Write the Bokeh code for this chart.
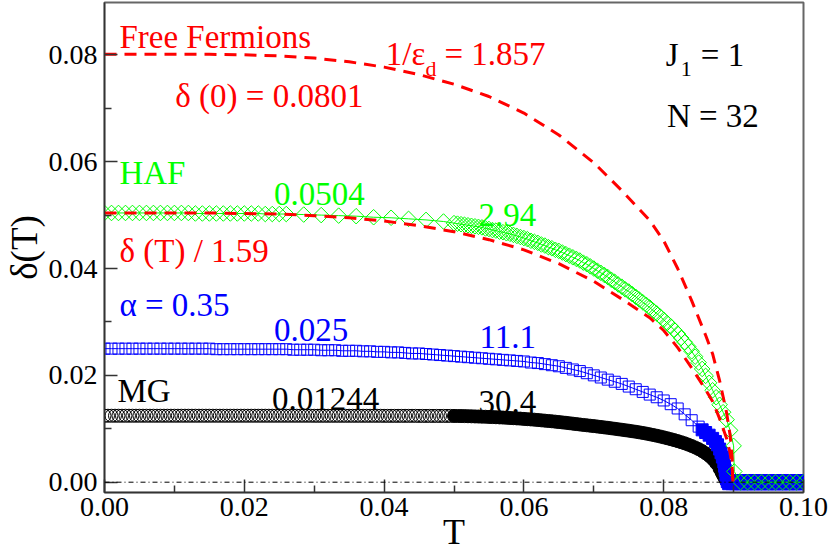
import math
from bokeh.plotting import figure
from bokeh.models import Range1d, FixedTicker, PrintfTickFormatter, Label, Span
from bokeh.embed import file_html
from bokeh.resources import INLINE

# ---------------- data ----------------
# Free fermions, delta(T)
ff_T = [0.000, 0.005, 0.010, 0.015, 0.020, 0.025, 0.030, 0.035, 0.040, 0.045,
        0.050, 0.055, 0.060, 0.065, 0.070, 0.074, 0.078, 0.080, 0.082, 0.084,
        0.086, 0.087, 0.088, 0.089, 0.0895, 0.0898, 0.0899]
ff_d = [0.0801, 0.0801, 0.0801, 0.0801, 0.0800, 0.0798, 0.0794, 0.0787, 0.0777, 0.0763,
        0.0745, 0.0722, 0.0691, 0.0650, 0.0598, 0.0546, 0.0490, 0.0452, 0.0400, 0.0340,
        0.0275, 0.0240, 0.0190, 0.0130, 0.0088, 0.0045, 0.0000]
# delta(T) / 1.59
ffs_d = [0.0504, 0.0504, 0.0504, 0.0504, 0.0503, 0.0502, 0.0499, 0.0495, 0.0489, 0.0480,
         0.0469, 0.0454, 0.0435, 0.0409, 0.0376, 0.0343, 0.0308, 0.0284, 0.0252, 0.0214,
         0.0173, 0.0151, 0.0119, 0.0082, 0.0055, 0.0028, 0.0000]

# HAF (green diamonds)
haf_T1 = [0.000, 0.001, 0.002, 0.003, 0.004, 0.005, 0.006, 0.007, 0.008, 0.009,
          0.010, 0.011, 0.012, 0.013, 0.014, 0.015, 0.016, 0.017, 0.018, 0.019,
          0.020, 0.021, 0.022, 0.023, 0.024, 0.025, 0.026,
          0.0285, 0.0310, 0.0335, 0.0360, 0.0385, 0.0410, 0.0435, 0.0460, 0.0485]
haf_d1 = [0.0504, 0.0504, 0.0504, 0.0504, 0.0504, 0.0504, 0.0504, 0.0504, 0.0504, 0.0504,
          0.0504, 0.0504, 0.0504, 0.0503, 0.0503, 0.0503, 0.0503, 0.0503, 0.0503, 0.0503,
          0.0503, 0.0503, 0.0503, 0.0502, 0.0502, 0.0502, 0.0502,
          0.0501, 0.0500, 0.0499, 0.0498, 0.0496, 0.0495, 0.0493, 0.0491, 0.0488]
haf_T2 = [0.0500, 0.0505, 0.0510, 0.0515, 0.0520, 0.0525, 0.0530, 0.0535, 0.0540, 0.0545,
          0.0550, 0.0555, 0.0560, 0.0565, 0.0570, 0.0575, 0.0580, 0.0585, 0.0590, 0.0595,
          0.0600, 0.0605, 0.0610, 0.0615, 0.0620, 0.0625, 0.0630, 0.0635, 0.0640, 0.0645,
          0.0650, 0.0655, 0.0660, 0.0665, 0.0670, 0.0675, 0.0680, 0.0685, 0.0690, 0.0695,
          0.0700, 0.0705, 0.0710, 0.0715, 0.0720, 0.0725, 0.0730, 0.0735, 0.0740, 0.0745,
          0.0750, 0.0755, 0.0760, 0.0765, 0.0770, 0.0775, 0.0780, 0.0785, 0.0790, 0.0795,
          0.0800, 0.0805, 0.0810, 0.0815, 0.0820, 0.0825, 0.0830, 0.0835, 0.0840, 0.0845,
          0.0850, 0.0855, 0.0860, 0.0865, 0.0870, 0.0875, 0.0880, 0.0885, 0.0890, 0.0895,
          0.0900, 0.0901]
haf_d2 = [0.0485, 0.0484, 0.0483, 0.0482, 0.0481, 0.0480, 0.0479, 0.0478, 0.0477, 0.0475,
          0.0474, 0.0472, 0.0471, 0.0469, 0.0468, 0.0466, 0.0465, 0.0463, 0.0461, 0.0459,
          0.0457, 0.0455, 0.0452, 0.0450, 0.0448, 0.0445, 0.0443, 0.0440, 0.0438, 0.0435,
          0.0433, 0.0430, 0.0427, 0.0424, 0.0421, 0.0418, 0.0415, 0.0411, 0.0408, 0.0404,
          0.0400, 0.0396, 0.0392, 0.0388, 0.0384, 0.0379, 0.0375, 0.0370, 0.0366, 0.0361,
          0.0357, 0.0352, 0.0347, 0.0342, 0.0337, 0.0332, 0.0327, 0.0321, 0.0316, 0.0310,
          0.0304, 0.0298, 0.0292, 0.0285, 0.0278, 0.0270, 0.0262, 0.0254, 0.0245, 0.0235,
          0.0224, 0.0212, 0.0199, 0.0186, 0.0172, 0.0159, 0.0145, 0.0131, 0.0117, 0.0097,
          0.0068, 0.0020]
haf_T3 = [0.091, 0.092, 0.093, 0.094, 0.095, 0.096, 0.097, 0.098, 0.099, 0.100]
haf_d3 = [0.0, 0.0, 0.0, 0.0, 0.0, 0.0, 0.0, 0.0, 0.0, 0.0]

# alpha = 0.35 (blue squares)
a_T1 = [0.000, 0.001, 0.002, 0.003, 0.004, 0.005, 0.006, 0.007, 0.008, 0.009,
        0.010, 0.011, 0.012, 0.013, 0.014, 0.015, 0.016, 0.017, 0.018, 0.019,
        0.020, 0.021, 0.022, 0.023, 0.024, 0.025, 0.026, 0.027, 0.028, 0.029,
        0.030, 0.031, 0.032, 0.033, 0.034, 0.035, 0.036, 0.037, 0.038, 0.039,
        0.040, 0.041, 0.042, 0.043, 0.044, 0.045, 0.046, 0.047, 0.048, 0.049,
        0.050, 0.051, 0.052, 0.053, 0.054, 0.055, 0.056, 0.057, 0.058, 0.059,
        0.060, 0.061, 0.062, 0.063, 0.064, 0.065, 0.066, 0.067, 0.068, 0.069,
        0.070, 0.071, 0.072, 0.073, 0.074, 0.075, 0.076, 0.077, 0.078, 0.079,
        0.080, 0.081, 0.082, 0.083, 0.084, 0.085]
a_d1 = [0.0250, 0.0250, 0.0250, 0.0250, 0.0250, 0.0250, 0.0250, 0.0250, 0.0250, 0.0250,
        0.0250, 0.0250, 0.0250, 0.0250, 0.0250, 0.0250, 0.0249, 0.0249, 0.0249, 0.0249,
        0.0249, 0.0249, 0.0249, 0.0249, 0.0249, 0.0249, 0.0249, 0.0248, 0.0248, 0.0248,
        0.0248, 0.0247, 0.0247, 0.0247, 0.0246, 0.0246, 0.0246, 0.0245, 0.0245, 0.0244,
        0.0244, 0.0243, 0.0243, 0.0242, 0.0241, 0.0241, 0.0240, 0.0239, 0.0238, 0.0237,
        0.0236, 0.0235, 0.0234, 0.0233, 0.0232, 0.0231, 0.0230, 0.0229, 0.0228, 0.0227,
        0.0226, 0.0224, 0.0223, 0.0221, 0.0219, 0.0217, 0.0214, 0.0211, 0.0208, 0.0204,
        0.0200, 0.0196, 0.0192, 0.0188, 0.0184, 0.0179, 0.0174, 0.0169, 0.0164, 0.0159,
        0.0153, 0.0146, 0.0138, 0.0127, 0.0116, 0.0104]
a_T2 = [0.0855, 0.0860, 0.0865, 0.0870, 0.0874, 0.0877, 0.0880, 0.0882, 0.0884, 0.0886,
        0.0887, 0.0888, 0.0889, 0.0890, 0.0891]
a_d2 = [0.0098, 0.0093, 0.0088, 0.0082, 0.0076, 0.0070, 0.0062, 0.0055, 0.0047, 0.0038,
        0.0030, 0.0022, 0.0014, 0.0006, 0.0001]
a_T3 = [0.0895, 0.0900, 0.0905, 0.0910, 0.0915, 0.0920, 0.0925, 0.0930, 0.0935, 0.0940,
        0.0945, 0.0950, 0.0955, 0.0960, 0.0965, 0.0970, 0.0975, 0.0980, 0.0985, 0.0990,
        0.0995, 0.1000]
a_d3 = [0.0, 0.0, 0.0, 0.0, 0.0, 0.0, 0.0, 0.0, 0.0, 0.0,
        0.0, 0.0, 0.0, 0.0, 0.0, 0.0, 0.0, 0.0, 0.0, 0.0,
        0.0, 0.0]

# MG (black circles)
mg_T1 = [0.0000, 0.0005, 0.0010, 0.0015, 0.0020, 0.0025, 0.0030, 0.0035, 0.0040, 0.0045,
         0.0050, 0.0055, 0.0060, 0.0065, 0.0070, 0.0075, 0.0080, 0.0085, 0.0090, 0.0095,
         0.0100, 0.0105, 0.0110, 0.0115, 0.0120, 0.0125, 0.0130, 0.0135, 0.0140, 0.0145,
         0.0150, 0.0155, 0.0160, 0.0165, 0.0170, 0.0175, 0.0180, 0.0185, 0.0190, 0.0195,
         0.0200, 0.0205, 0.0210, 0.0215, 0.0220, 0.0225, 0.0230, 0.0235, 0.0240, 0.0245,
         0.0250, 0.0255, 0.0260, 0.0265, 0.0270, 0.0275, 0.0280, 0.0285, 0.0290, 0.0295,
         0.0300, 0.0305, 0.0310, 0.0315, 0.0320, 0.0325, 0.0330, 0.0335, 0.0340, 0.0345,
         0.0350, 0.0355, 0.0360, 0.0365, 0.0370, 0.0375, 0.0380, 0.0385, 0.0390, 0.0395,
         0.0400, 0.0405, 0.0410, 0.0415, 0.0420, 0.0425, 0.0430, 0.0435, 0.0440, 0.0445,
         0.0450, 0.0455, 0.0460, 0.0465, 0.0470, 0.0475, 0.0480, 0.0485, 0.0490, 0.0495]
mg_d1 = [0.01244, 0.01244, 0.01244, 0.01244, 0.01244, 0.01244, 0.01244, 0.01244, 0.01244, 0.01244,
         0.01244, 0.01244, 0.01244, 0.01244, 0.01244, 0.01244, 0.01244, 0.01244, 0.01244, 0.01244,
         0.01244, 0.01244, 0.01244, 0.01244, 0.01244, 0.01244, 0.01244, 0.01244, 0.01244, 0.01244,
         0.01244, 0.01244, 0.01244, 0.01244, 0.01244, 0.01244, 0.01244, 0.01244, 0.01244, 0.01244,
         0.01244, 0.01244, 0.01244, 0.01244, 0.01244, 0.01244, 0.01244, 0.01244, 0.01244, 0.01244,
         0.01244, 0.01244, 0.01244, 0.01244, 0.01244, 0.01244, 0.01244, 0.01244, 0.01244, 0.01244,
         0.01243, 0.01243, 0.01243, 0.01243, 0.01243, 0.01243, 0.01243, 0.01243, 0.01243, 0.01243,
         0.01243, 0.01243, 0.01243, 0.01243, 0.01243, 0.01243, 0.01243, 0.01243, 0.01243, 0.01243,
         0.01242, 0.01242, 0.01242, 0.01242, 0.01242, 0.01242, 0.01242, 0.01242, 0.01242, 0.01242,
         0.01241, 0.01241, 0.01241, 0.01241, 0.01241, 0.01241, 0.01241, 0.01241, 0.01241, 0.01241]
mg_T2 = [0.0500, 0.0505, 0.0510, 0.0515, 0.0520, 0.0525, 0.0530, 0.0535, 0.0540, 0.0545,
         0.0550, 0.0555, 0.0560, 0.0565, 0.0570, 0.0575, 0.0580, 0.0585, 0.0590, 0.0595,
         0.0600, 0.0605, 0.0610, 0.0615, 0.0620, 0.0625, 0.0630, 0.0635, 0.0640, 0.0645,
         0.0650, 0.0655, 0.0660, 0.0665, 0.0670, 0.0675, 0.0680, 0.0685, 0.0690, 0.0695,
         0.0700, 0.0705, 0.0710, 0.0715, 0.0720, 0.0725, 0.0730, 0.0735, 0.0740, 0.0745,
         0.0750, 0.0755, 0.0760, 0.0765, 0.0770, 0.0775, 0.0780, 0.0785, 0.0790, 0.0795,
         0.0800, 0.0805, 0.0810, 0.0815, 0.0820, 0.0825, 0.0830, 0.0835, 0.0840, 0.0845,
         0.0850, 0.0855, 0.0860, 0.0865, 0.0870, 0.0875, 0.0880, 0.0883, 0.0885, 0.0887,
         0.0889, 0.0891]
mg_d2 = [0.01240, 0.01239, 0.01238, 0.01237, 0.01235, 0.01233, 0.01231, 0.01229, 0.01227, 0.01225,
         0.01222, 0.01219, 0.01216, 0.01213, 0.01210, 0.01206, 0.01202, 0.01198, 0.01194, 0.01190,
         0.01185, 0.01180, 0.01175, 0.01170, 0.01164, 0.01158, 0.01152, 0.01146, 0.01140, 0.01133,
         0.01126, 0.01119, 0.01112, 0.01104, 0.01096, 0.01088, 0.01080, 0.01072, 0.01065, 0.01057,
         0.01050, 0.01042, 0.01034, 0.01026, 0.01018, 0.01009, 0.01000, 0.00991, 0.00982, 0.00973,
         0.00964, 0.00954, 0.00944, 0.00933, 0.00922, 0.00910, 0.00897, 0.00884, 0.00870, 0.00855,
         0.00839, 0.00823, 0.00806, 0.00788, 0.00769, 0.00749, 0.00728, 0.00704, 0.00678, 0.00650,
         0.00619, 0.00583, 0.00541, 0.00492, 0.00433, 0.00355, 0.00250, 0.00180, 0.00130, 0.00080,
         0.00035, 0.00005]

x_ticks = [0.00, 0.02, 0.04, 0.06, 0.08, 0.10]
x_minor = [0.01, 0.03, 0.05, 0.07, 0.09]
y_ticks = [0.00, 0.02, 0.04, 0.06, 0.08]
y_minor = [0.01, 0.03, 0.05, 0.07]

RED = "#ff0000"
GREEN = "#00ff00"
BLUE = "#0000ff"
FONT = "Times"

# ---------------- figure ----------------
p = figure(width=830, height=554, output_backend="svg", toolbar_location=None,
           x_range=Range1d(0, 0.1), y_range=Range1d(-0.00193, 0.0898),
           min_border_left=102, min_border_right=27, min_border_top=2, min_border_bottom=62)
p.xgrid.visible = False
p.ygrid.visible = False
p.outline_line_color = "#666666"
p.outline_line_width = 2
p.background_fill_color = "white"
p.border_fill_color = "white"

for ax, tk, mn, so in [(p.xaxis[0], x_ticks, x_minor, 5), (p.yaxis[0], y_ticks, y_minor, 7)]:
    ax.ticker = FixedTicker(ticks=tk, minor_ticks=mn)
    ax.formatter = PrintfTickFormatter(format="%.2f")
    ax.major_tick_in = 13
    ax.major_tick_out = 0
    ax.minor_tick_in = 7
    ax.minor_tick_out = 0
    ax.axis_line_color = "#333333"
    ax.axis_line_width = 1.5
    ax.major_tick_line_color = "#333333"
    ax.major_tick_line_width = 1.5
    ax.minor_tick_line_color = "#333333"
    ax.minor_tick_line_width = 1.5
    ax.major_label_text_font = FONT
    ax.major_label_text_font_size = "28px"
    ax.major_label_text_color = "black"
    ax.major_label_standoff = so
    ax.axis_label_text_font = FONT
    ax.axis_label_text_font_style = "normal"
    ax.axis_label_text_color = "black"

p.xaxis[0].axis_label = "T"
p.xaxis[0].axis_label_text_font_size = "36px"
p.xaxis[0].axis_label_standoff = -7
p.yaxis[0].axis_label = "\u03b4(T)"
p.yaxis[0].axis_label_text_font_size = "37px"
p.yaxis[0].axis_label_standoff = 1

# MG
p.scatter(mg_T1, mg_d1, marker="circle", size=13, line_color="black", fill_color=None, line_width=1)
p.scatter(mg_T2, mg_d2, marker="circle", size=13, line_color="black", fill_color="black", line_width=1)

# alpha = 0.35
p.line(a_T1 + a_T2, a_d1 + a_d2, line_color=BLUE, line_width=1)
p.scatter(a_T1, a_d1, marker="square", size=11, line_color=BLUE, fill_color=None, line_width=1)
p.scatter(a_T2, a_d2, marker="square", size=12, line_color=BLUE, fill_color=BLUE, line_width=1)
p.scatter(a_T3, a_d3, marker="square", size=15, line_color=BLUE, fill_color=BLUE, line_width=1)

# HAF
p.line(haf_T1 + haf_T2 + haf_T3, haf_d1 + haf_d2 + haf_d3, line_color=GREEN, line_width=1)
for tx, dy in [(haf_T1, haf_d1), (haf_T2, haf_d2), (haf_T3, haf_d3)]:
    p.scatter(tx, dy, marker="square", angle=math.pi / 4, size=11,
              line_color=GREEN, fill_color=None, line_width=1)

# free fermions
p.line(ff_T, ff_d, line_color=RED, line_width=3, line_dash="12 8")
p.line(ff_T, ffs_d, line_color=RED, line_width=3, line_dash="12 8")

p.add_layout(Span(location=0, dimension="width", line_color="black",
                  line_width=1, line_dash="5 3 1 3"))

texts = [
    ("Free Fermions", 0.00214, 0.08343, RED, "33px"),
    ("1/\u03b5", 0.04023, 0.08020, RED, "33px"),
    ("d", 0.04593, 0.07744, RED, "22px"),
    ("= 1.857", 0.04864, 0.08020, RED, "33px"),
    ("\u03b4 (0) = 0.0801", 0.01013, 0.07238, RED, "33px"),
    ("J", 0.08031, 0.07988, "black", "33px"),
    ("1", 0.08245, 0.07744, "black", "22px"),
    ("= 1", 0.08531, 0.07988, "black", "33px"),
    ("N = 32", 0.08046, 0.06864, "black", "33px"),
    ("HAF", 0.00214, 0.05797, GREEN, "33px"),
    ("0.0504", 0.02425, 0.05404, GREEN, "33px"),
    ("\u03b4 (T) / 1.59", 0.00214, 0.04337, RED, "33px"),
    ("2.94", 0.05350, 0.04993, GREEN, "33px"),
    ("\u03b1 = 0.35", 0.00214, 0.03310, BLUE, "33px"),
    ("0.025", 0.02425, 0.02853, BLUE, "33px"),
    ("11.1", 0.05364, 0.02714, BLUE, "33px"),
    ("MG", 0.00185, 0.01704, "black", "33px"),
    ("0.01244", 0.02397, 0.01561, "black", "33px"),
    ("30.4", 0.05350, 0.01498, "black", "33px"),
]
for t, x, y, c, fs in texts:
    p.add_layout(Label(x=x, y=y, text=t, text_color=c, text_font=FONT,
                       text_font_size=fs, text_align="left", text_baseline="alphabetic"))

open("out.html", "w").write(file_html(p, INLINE))
